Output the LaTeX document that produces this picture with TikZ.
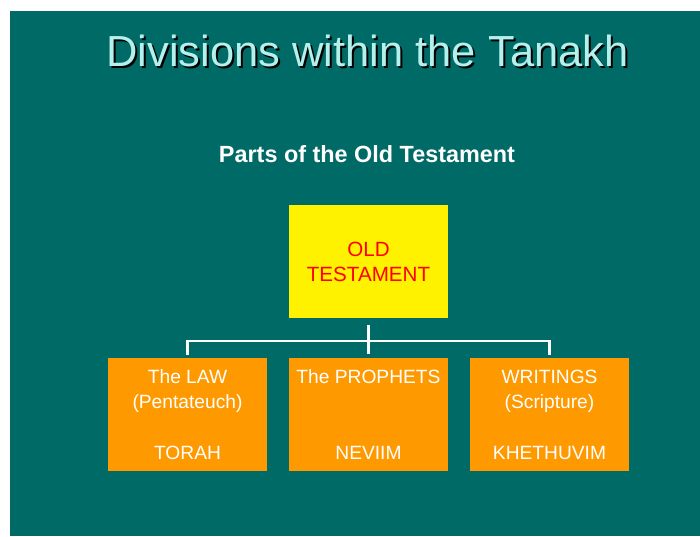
\documentclass[tikz,border=0pt]{standalone}
\usepackage{fontspec}
\setmainfont{Liberation Sans}
\usetikzlibrary{calc}
\definecolor{slideteal}{RGB}{0,106,102}
\definecolor{titlecyan}{RGB}{180,240,236}
\definecolor{partorange}{RGB}{255,153,0}
\tikzset{
  rootbox/.style={fill=yellow, text=red, minimum width=159pt, minimum height=113pt, inner sep=0pt, align=center, font=\fontsize{20.6}{25}\selectfont},
  partbox/.style={fill=partorange, text=white, minimum width=159pt, minimum height=113pt, inner sep=0pt, align=center, font=\fontsize{19.2}{25.3}\selectfont},
  branch/.style={draw=white, line width=2.5pt}
}

\begin{document}
\begin{tikzpicture}[x=1pt,y=-1pt]
	%%%%% START %%%%%
	
	\useasboundingbox (0,0) rectangle (700,536);
	\fill[slideteal] (10,11) rectangle (700,536);
	
	\node[anchor=base, text=black, font=\fontsize{43.5}{50}\selectfont] (titleshadow) at (369.5,68) {Divisions within the Tanakh};
	\node[anchor=base, text=titlecyan, font=\fontsize{43.5}{50}\selectfont] (title) at (367.5,66) {Divisions within the Tanakh};
	
	\node[anchor=base, text=white, font=\bfseries\fontsize{23.4}{28}\selectfont] (subtitle) at (367,162) {Parts of the Old Testament};
	
	\node[rootbox] (old) at (368.5,261.5) {OLD\\TESTAMENT};
	
	\node[partbox] (law) at (187.5,414.5) {The LAW\\(Pentateuch)\\[25.3pt]TORAH};
	\node[partbox] (prophets) at (368.5,414.5) {The PROPHETS\\[50.6pt]NEVIIM};
	\node[partbox] (writings) at (549.5,414.5) {WRITINGS\\(Scripture)\\[25.3pt]KHETHUVIM};
	
	\coordinate (bus) at (368.5,341);
	\draw[branch, shorten <=7pt, shorten >=4pt] (old.south) -- (prophets.north);
	\draw[branch, shorten <=3pt, shorten >=3pt] (law.north) |- (bus) -| (writings.north);
	
	%%%%% END %%%%%
\end{tikzpicture}
\end{document}
